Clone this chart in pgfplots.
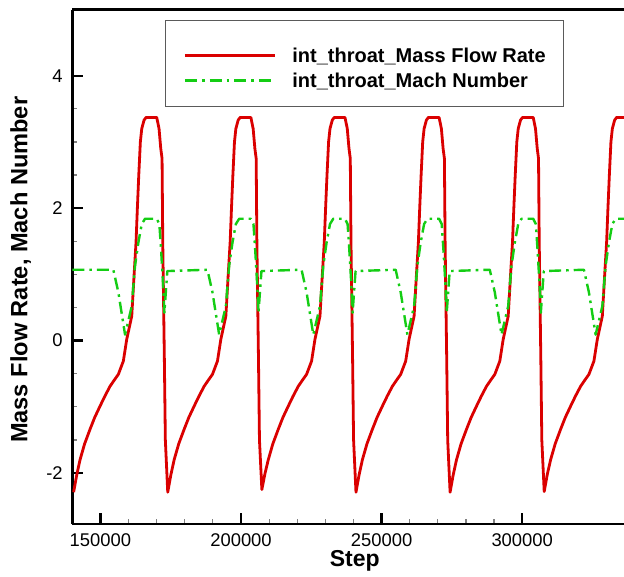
\documentclass[border=0pt]{standalone}
\usepackage{fontspec}
\setmainfont{Liberation Sans}
\usepackage{pgfplots}
\pgfplotsset{compat=1.18}
\definecolor{flowred}{RGB}{218,0,0}
\definecolor{machgreen}{RGB}{20,205,20}
\definecolor{legframe}{RGB}{90,90,90}

\begin{document}
\begin{tikzpicture}
\begin{axis}[
  scale only axis,
  width=275.85pt, height=257.25pt,
  xmin=140000, xmax=336200,
  ymin=-2.77, ymax=5,
  axis x line*=box, axis y line*=left,
  xtick pos=bottom, ytick pos=left,
  xtick={150000,200000,250000,300000},
  ytick={-2,0,2,4},
  minor x tick num=4, minor y tick num=3,
  tick align=inside,
  major tick length=5.3pt, minor tick length=2.4pt,
  major tick style={black, line width=1.2pt},
  minor tick style={gray, line width=0.6pt},
  axis line style={black, line width=1.35pt},
  scaled x ticks=false, scaled y ticks=false,
  /pgf/number format/fixed,
  /pgf/number format/1000 sep={},
  /pgf/number format/assume math mode=true,
  tick label style={font=\fontsize{9.2}{11}\selectfont},
  xticklabel style={yshift=-1.5pt},
  yticklabel style={xshift=-1.3pt},
  every axis x label/.style={at={([yshift=-21.35pt]rel axis cs:0.512,0)}, anchor=base,
    font=\fontsize{11.5}{13}\selectfont\bfseries},
  every axis y label/.style={at={([xshift=-22.5pt]rel axis cs:0,0.494)}, rotate=90, anchor=base,
    font=\fontsize{11.8}{13}\selectfont\bfseries},
  xlabel={Step},
  ylabel={Mass Flow Rate, Mach Number},
  legend style={at={(0.168,0.9796)}, anchor=north west, draw=legframe, line width=0.6pt,
    fill=white, inner xsep=9pt, inner ysep=5.4pt, column sep=8pt, row sep=0pt,
    cells={anchor=base west}, nodes={inner sep=0pt, text height=8.5pt, text depth=4pt},
    font=\fontsize{10}{12}\selectfont\bfseries},
  legend image code/.code={\draw[#1] (0pt,3.6pt) -- (45pt,3.6pt);},
]
\addplot[flowred, line width=1.4pt, line join=round] coordinates {
(140470,-2.29) (141570,-2.03) (142750,-1.80) (144370,-1.56) (146300,-1.34) (147970,-1.16)
(149860,-0.99) (151570,-0.84) (153420,-0.69) (154870,-0.60) (156370,-0.51)
(158150,-0.31) (159360,0.02) (161140,0.37) (161960,0.98) (162670,1.49) (163130,1.99)
(163630,2.49) (164200,3.00) (164700,3.20) (165520,3.33) (166230,3.37) (170030,3.37)
(170850,3.20) (171460,2.90) (171920,2.75) (172170,1.48) (172740,-0.28) (173090,-1.50)
(173940,-2.29) (175040,-2.03) (176220,-1.80) (177840,-1.56) (179770,-1.34) (181440,-1.16)
(183330,-0.99) (185040,-0.84) (186890,-0.69) (188340,-0.60) (189840,-0.51)
(191620,-0.31) (192830,0.02) (194610,0.37) (195430,0.98) (196140,1.49) (196600,1.99)
(197100,2.49) (197670,3.00) (198170,3.20) (198990,3.33) (199700,3.37) (203500,3.37)
(204320,3.20) (204930,2.90) (205390,2.75) (205640,1.48) (206210,-0.28) (206560,-1.50)
(207410,-2.25) (208510,-2.01) (209690,-1.80) (211310,-1.56) (213240,-1.34) (214910,-1.16)
(216800,-0.99) (218510,-0.84) (220360,-0.69) (221810,-0.60) (223310,-0.51)
(225090,-0.31) (226300,0.02) (228080,0.37) (228900,0.98) (229610,1.49) (230070,1.99)
(230570,2.49) (231140,3.00) (231640,3.20) (232460,3.33) (233170,3.37) (236970,3.37)
(237790,3.20) (238400,2.90) (238860,2.75) (239110,1.48) (239680,-0.28) (240030,-1.50)
(240880,-2.29) (241980,-2.03) (243160,-1.80) (244780,-1.56) (246710,-1.34) (248380,-1.16)
(250270,-0.99) (251980,-0.84) (253830,-0.69) (255280,-0.60) (256780,-0.51)
(258560,-0.31) (259770,0.02) (261550,0.37) (262370,0.98) (263080,1.49) (263540,1.99)
(264040,2.49) (264610,3.00) (265110,3.20) (265930,3.33) (266640,3.37) (270440,3.37)
(271260,3.20) (271870,2.90) (272330,2.75) (272580,1.48) (273150,-0.28) (273500,-1.50)
(274350,-2.29) (275450,-2.03) (276630,-1.80) (278250,-1.56) (280180,-1.34) (281850,-1.16)
(283740,-0.99) (285450,-0.84) (287300,-0.69) (288750,-0.60) (290250,-0.51)
(292030,-0.31) (293240,0.02) (295020,0.37) (295840,0.98) (296550,1.49) (297010,1.99)
(297510,2.49) (298080,3.00) (298580,3.20) (299400,3.33) (300110,3.37) (303910,3.37)
(304730,3.20) (305340,2.90) (305800,2.75) (306050,1.48) (306620,-0.28) (306970,-1.50)
(307820,-2.28) (308920,-2.02) (310100,-1.80) (311720,-1.56) (313650,-1.34) (315320,-1.16)
(317210,-0.99) (318920,-0.84) (320770,-0.69) (322220,-0.60) (323720,-0.51)
(325500,-0.31) (326710,0.02) (328490,0.37) (329310,0.98) (330020,1.49) (330480,1.99)
(330980,2.49) (331550,3.00) (332050,3.20) (332870,3.33) (333580,3.37) (337380,3.37)
};
\addlegendentry[text height=15.7pt]{int\_throat\_Mass Flow Rate}
\addplot[machgreen, line width=1.2pt, line join=round,
  dash pattern=on 6pt off 2.5pt on 1.3pt off 2.5pt] coordinates {
(140000,1.07) (154590,1.07) (156370,0.73) (158760,0.09) (161140,0.52) (162310,1.13)
(163490,1.48) (164700,1.76) (165870,1.84) (170030,1.84) (170960,1.76) (171560,1.38)
(172380,0.78) (172740,0.42) (173340,0.78) (173800,1.05)
(188060,1.07) (189840,0.73) (192230,0.09) (194610,0.52) (195780,1.13)
(196960,1.48) (198170,1.76) (199340,1.84) (203500,1.84) (204430,1.76) (205030,1.38)
(205850,0.78) (206210,0.42) (206810,0.78) (207270,1.05)
(221530,1.07) (223310,0.73) (225700,0.09) (228080,0.52) (229250,1.13)
(230430,1.48) (231640,1.76) (232810,1.84) (236970,1.84) (237900,1.76) (238500,1.38)
(239320,0.78) (239680,0.42) (240280,0.78) (240740,1.05)
(255000,1.07) (256780,0.73) (259170,0.09) (261550,0.52) (262720,1.13)
(263900,1.48) (265110,1.76) (266280,1.84) (270440,1.84) (271370,1.76) (271970,1.38)
(272790,0.78) (273150,0.42) (273750,0.78) (274210,1.05)
(288470,1.07) (290250,0.73) (292640,0.09) (295020,0.52) (296190,1.13)
(297370,1.48) (298580,1.76) (299750,1.84) (303910,1.84) (304840,1.76) (305440,1.38)
(306260,0.78) (306620,0.42) (307220,0.78) (307680,1.05)
(321940,1.07) (323720,0.73) (326110,0.09) (328490,0.52) (329660,1.13)
(330840,1.48) (332050,1.76) (333220,1.84) (337380,1.84)
};
\addlegendentry{int\_throat\_Mach Number}
\end{axis}
\pgfresetboundingbox
\path[use as bounding box] ([xshift=-36.15pt,yshift=-26pt]current axis.south west)
  rectangle ([yshift=4.75pt]current axis.north east);
\end{tikzpicture}
\end{document}
